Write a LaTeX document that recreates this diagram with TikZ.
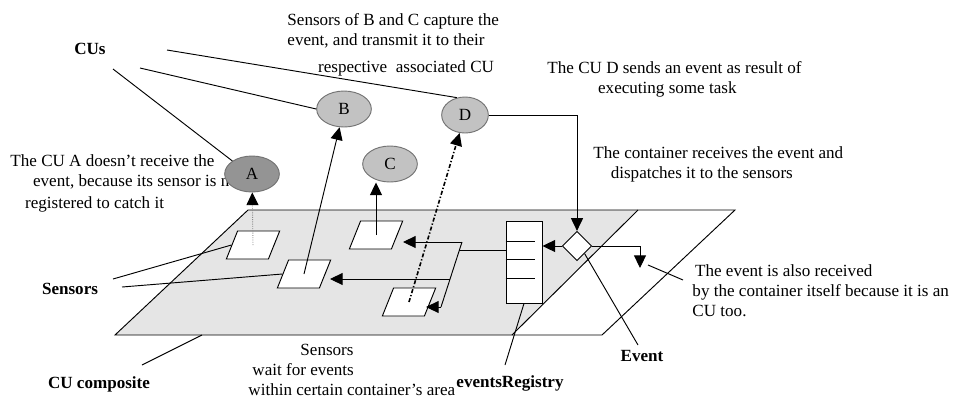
\documentclass[tikz,border=0pt]{standalone}
\usepackage{fontspec}
\setmainfont{Liberation Serif}
\usetikzlibrary{arrows.meta,shapes.geometric}
\definecolor{planegray}{gray}{0.9}
\definecolor{cugray}{gray}{0.76}
\definecolor{cudark}{gray}{0.58}

\begin{document}
\begin{tikzpicture}[
    x=0.75pt, y=-0.75pt,
    >={Triangle[length=9.5pt,width=9pt,color=black]},
    line width=0.7pt,
    font=\fontsize{12.8}{15}\selectfont,
    cu/.style={ellipse, draw=black!55, fill=cugray, minimum width=41pt, minimum height=27pt, inner sep=0pt},
    sensor/.style={trapezium, trapezium left angle=70, trapezium right angle=110,
                   trapezium stretches=true, draw, fill=white,
                   minimum width=40pt, minimum height=21pt, inner sep=2pt},
    note/.style={align=left, anchor=north west, inner sep=0pt},
    tag/.style={font=\fontsize{12.8}{15}\selectfont\bfseries, inner sep=0pt}
]
  \useasboundingbox (0,0) rectangle (953,405);

  % container plane
  \fill[planegray] (248,210) -- (638,210) -- (512,335) -- (115,335) -- cycle;
  \draw (248,210) -- (735,210) -- (602,335) -- (115,335) -- cycle;
  \draw (638,210) -- (512,335);

  % notes
  \node[note] (noteBC) at (287,13) {Sensors of B and C capture the\\event, and transmit it to their\\[5pt]\hspace{23pt}respective\ \ associated CU};
  \node[note] (noteA) at (10,154) {The CU A doesn't receive the\\\hspace{17pt}event, because its sensor is not\\[2pt]\hspace{11pt}registered to catch it};
  \node[note] (noteD) at (547,61) {The CU D sends an event as result of\\\hspace{38pt}executing some task};
  \node[note] (noteCont) at (593,146) {The container receives the event and\\\hspace{13pt}dispatches it to the sensors};
  \node[note] (noteSelf) at (692,264) {\hspace{2pt}The event is also received\\by the container itself because it is an\\CU too.};
  \node[note] (noteWait) at (248,344) {\hspace{39pt}Sensors\\\hspace{3pt}wait for events\\within certain container's area};

  % labels
  \node[tag] (cus)  at (90,49)   {CUs};
  \node[tag] (sens) at (70,289)  {Sensors};
  \node[tag] (comp) at (99,384)  {CU composite};
  \node[tag] (regl) at (510,383) {eventsRegistry};
  \node[tag] (evl)  at (642,356) {Event};

  % CUs
  \node[cu, fill=cudark] (A) at (252,174) {A};
  \node[cu] (B) at (344,109) {B};
  \node[cu] (C) at (390,164) {C};
  \node[cu, minimum width=35pt] (D) at (465,115) {D};

  % sensors, registry, event
  \node[sensor] (sA) at (253,245) {};
  \node[sensor] (sB) at (304,274) {};
  \node[sensor] (sC) at (376,235) {};
  \node[sensor] (sD) at (409,302) {};
  \node[draw, fill=white, minimum width=27pt, minimum height=61.5pt, inner sep=0pt] (reg) at (524,262) {};
  \foreach \y in {21,39,58}
    \draw (reg.north west) ++(0,\y) -- ++(29,0);
  \node[diamond, draw, fill=white, minimum size=22pt, inner sep=0pt] (ev) at (577,246) {};

  % bus from the registry
  \coordinate (bt) at (462,242);
  \coordinate (rj) at (459,250);
  \coordinate (bm) at (450,279);
  \coordinate (bb) at (441,307);
  \coordinate (self) at (640,268);

  % label ends
  \coordinate (cu1) at (167,50);
  \coordinate (cu2) at (140,68);
  \coordinate (cu3) at (113,69);
  \coordinate (se1) at (113,279);
  \coordinate (se2) at (122,287);
  \coordinate (co1) at (142,365);
  \coordinate (co2) at (202,335);
  \coordinate (re1) at (505,365);
  \coordinate (ev1) at (638,345);
  \coordinate (sf1) at (683,280);
  \coordinate (sf2) at (648,265);

  % event flow
  \draw[->] (D.east) -| (ev.north);
  \draw[->] (ev.west) -- (ev.west -| reg.east);
  \draw[->] (ev.east) -| (self);
  \draw (rj) -- (rj -| reg.west);
  \draw (bt) -- (bb);
  \draw[->] (bt) -- ++(-59,0);
  \draw[->] (bm) -- ++(-120,0);
  \draw[->] (bb) -- ++(-15,0);

  % sensors to CUs
  \draw[->, black!45, densely dotted] (sA.center) -- (A);
  \draw[->] (sB.center) -- (B);
  \draw[->] (sC.center) -- (sC.center |- C.south);
  \draw[->, line width=1.2pt, dash pattern=on 3pt off 1.5pt on 1pt off 1.5pt] (sD.center) -- (D);

  % annotation lines
  \draw (cu1) -- (D.115);
  \draw (cu2) -- (B.west);
  \draw (cu3) -- (A.north west);
  \draw (se1) -- (sA.west);
  \draw (se2) -- (sB.west);
  \draw (co1) -- (co2);
  \draw (re1) -- (reg.south);
  \draw (ev1) -- (ev.south east);
  \draw (sf1) -- (sf2);
\end{tikzpicture}
\end{document}
